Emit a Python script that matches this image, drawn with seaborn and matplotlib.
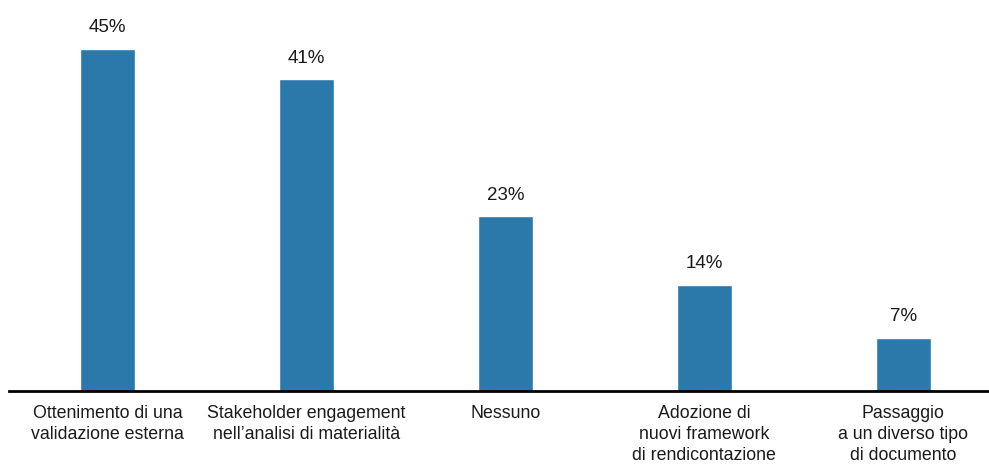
import matplotlib
matplotlib.use("Agg")
import matplotlib.pyplot as plt
import seaborn as sns
import pandas as pd

# dati
categorie = [
    "Ottenimento di una\nvalidazione esterna",
    "Stakeholder engagement\nnell\u2019analisi di materialità",
    "Nessuno",
    "Adozione di\nnuovi framework\ndi rendicontazione",
    "Passaggio\na un diverso tipo\ndi documento",
]
valori = [45, 41, 23, 14, 7]

sns.set_style("white")
plt.rcParams["font.family"] = ["Liberation Sans Narrow", "Liberation Sans", "DejaVu Sans"]

df = pd.DataFrame({"cat": categorie, "val": valori})

fig = plt.figure(figsize=(9.89, 4.73), dpi=100)
ax = fig.add_axes([0.009, 0.173, 0.991, 0.827])

sns.barplot(data=df, x="cat", y="val", color="#2b78ab", saturation=1,
            width=0.276, ax=ax)

for i, v in enumerate(valori):
    ax.annotate(f"{v}%", (i, v), xytext=(0, 9), textcoords="offset points",
                ha="center", va="bottom", fontsize=13.5, color="#1a1a1a")

ax.set_xlim(-0.495, 4.43)
ax.set_ylim(0, 51.4)
ax.set_xlabel("")
ax.set_ylabel("")
ax.set_yticks([])
ax.tick_params(axis="x", length=0, pad=10, labelsize=12.8, labelcolor="#1a1a1a")
for lbl in ax.get_xticklabels():
    lbl.set_linespacing(1.3)
for s in ["top", "right", "left"]:
    ax.spines[s].set_visible(False)
ax.spines["bottom"].set_color("black")
ax.spines["bottom"].set_linewidth(2)

plt.savefig("out.png", dpi=100)
